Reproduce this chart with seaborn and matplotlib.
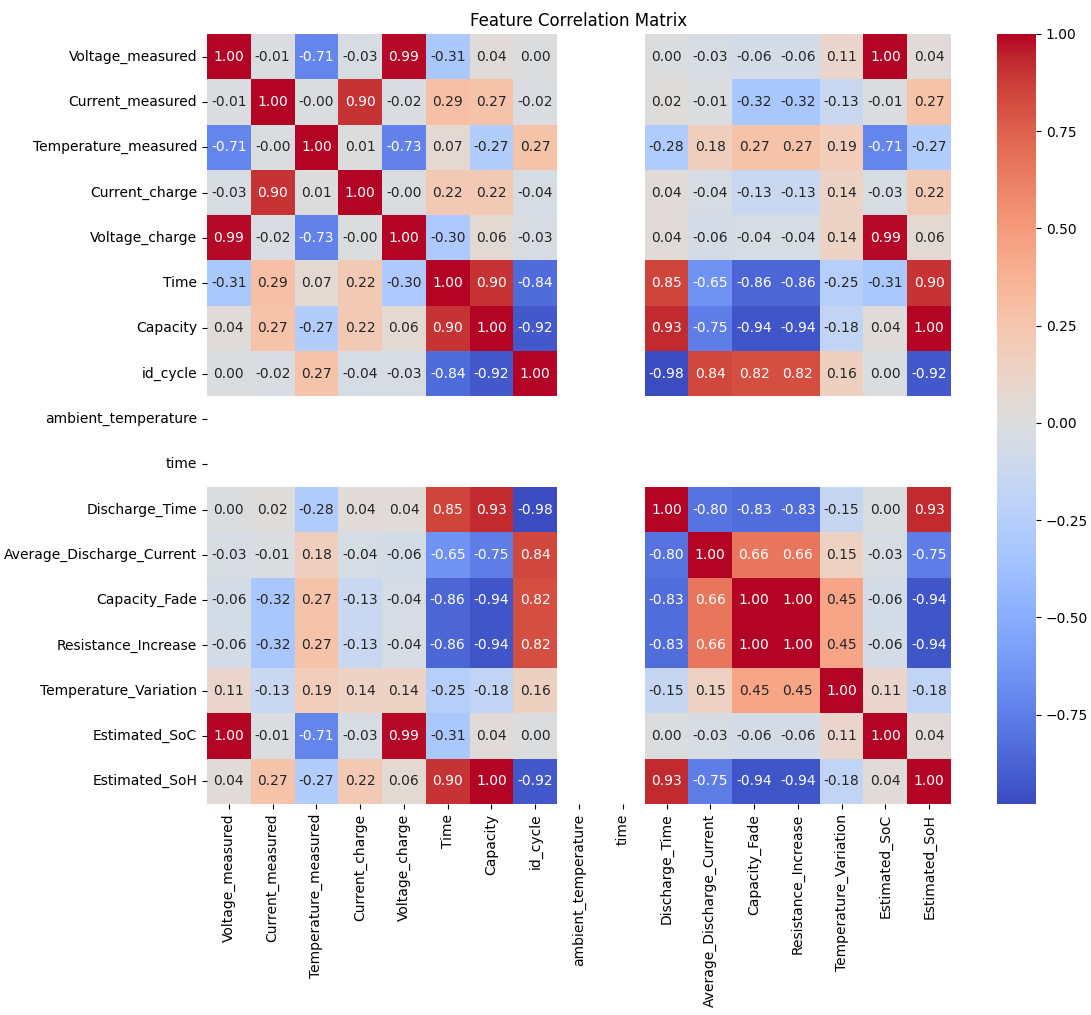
import numpy as np
import pandas as pd
import matplotlib
matplotlib.use("Agg")
import matplotlib.pyplot as plt
import seaborn as sns

features = ["Voltage_measured", "Current_measured", "Temperature_measured",
            "Current_charge", "Voltage_charge", "Time", "Capacity", "id_cycle",
            "ambient_temperature", "time", "Discharge_Time",
            "Average_Discharge_Current", "Capacity_Fade", "Resistance_Increase",
            "Temperature_Variation", "Estimated_SoC", "Estimated_SoH"]

n = np.nan
# correlation rows (ambient_temperature / time are constant -> NaN)
voltage_measured = [1.00, -0.01, -0.71, -0.03, 0.99, -0.31, 0.04, 0.00, n, n, 0.00, -0.03, -0.06, -0.06, 0.11, 1.00, 0.04]
current_measured = [-0.01, 1.00, -0.004, 0.90, -0.02, 0.29, 0.27, -0.02, n, n, 0.02, -0.01, -0.32, -0.32, -0.13, -0.01, 0.27]
temperature_measured = [-0.71, -0.004, 1.00, 0.01, -0.73, 0.07, -0.27, 0.27, n, n, -0.28, 0.18, 0.27, 0.27, 0.19, -0.71, -0.27]
current_charge = [-0.03, 0.90, 0.01, 1.00, -0.004, 0.22, 0.22, -0.04, n, n, 0.04, -0.04, -0.13, -0.13, 0.14, -0.03, 0.22]
voltage_charge = [0.99, -0.02, -0.73, -0.004, 1.00, -0.30, 0.06, -0.03, n, n, 0.04, -0.06, -0.04, -0.04, 0.14, 0.99, 0.06]
time_col = [-0.31, 0.29, 0.07, 0.22, -0.30, 1.00, 0.90, -0.84, n, n, 0.85, -0.65, -0.86, -0.86, -0.25, -0.31, 0.90]
capacity = [0.04, 0.27, -0.27, 0.22, 0.06, 0.90, 1.00, -0.92, n, n, 0.93, -0.75, -0.94, -0.94, -0.18, 0.04, 1.00]
id_cycle = [0.00, -0.02, 0.27, -0.04, -0.03, -0.84, -0.92, 1.00, n, n, -0.98, 0.84, 0.82, 0.82, 0.16, 0.00, -0.92]
ambient_temperature = [n] * 17
time_lower = [n] * 17
discharge_time = [0.00, 0.02, -0.28, 0.04, 0.04, 0.85, 0.93, -0.98, n, n, 1.00, -0.80, -0.83, -0.83, -0.15, 0.00, 0.93]
avg_discharge_current = [-0.03, -0.01, 0.18, -0.04, -0.06, -0.65, -0.75, 0.84, n, n, -0.80, 1.00, 0.66, 0.66, 0.15, -0.03, -0.75]
capacity_fade = [-0.06, -0.32, 0.27, -0.13, -0.04, -0.86, -0.94, 0.82, n, n, -0.83, 0.66, 1.00, 1.00, 0.45, -0.06, -0.94]
resistance_increase = [-0.06, -0.32, 0.27, -0.13, -0.04, -0.86, -0.94, 0.82, n, n, -0.83, 0.66, 1.00, 1.00, 0.45, -0.06, -0.94]
temperature_variation = [0.11, -0.13, 0.19, 0.14, 0.14, -0.25, -0.18, 0.16, n, n, -0.15, 0.15, 0.45, 0.45, 1.00, 0.11, -0.18]
estimated_soc = [1.00, -0.01, -0.71, -0.03, 0.99, -0.31, 0.04, 0.00, n, n, 0.00, -0.03, -0.06, -0.06, 0.11, 1.00, 0.04]
estimated_soh = [0.04, 0.27, -0.27, 0.22, 0.06, 0.90, 1.00, -0.92, n, n, 0.93, -0.75, -0.94, -0.94, -0.18, 0.04, 1.00]

rows = [voltage_measured, current_measured, temperature_measured, current_charge,
        voltage_charge, time_col, capacity, id_cycle, ambient_temperature, time_lower,
        discharge_time, avg_discharge_current, capacity_fade, resistance_increase,
        temperature_variation, estimated_soc, estimated_soh]

corr = pd.DataFrame(rows, index=features, columns=features)

W, H = 1091, 1015
fig = plt.figure(figsize=(W / 100, H / 100), dpi=100)
ax = fig.add_axes([207 / W, 1 - 804 / H, (951 - 207) / W, (804 - 34) / H])
cax = fig.add_axes([997 / W, 1 - 804 / H, (1036 - 997) / W, (804 - 34) / H])

sns.heatmap(corr, annot=True, fmt=".2f", cmap="coolwarm", ax=ax, cbar_ax=cax)
ax.set_title("Feature Correlation Matrix")

fig.savefig("out.png", dpi=100)
